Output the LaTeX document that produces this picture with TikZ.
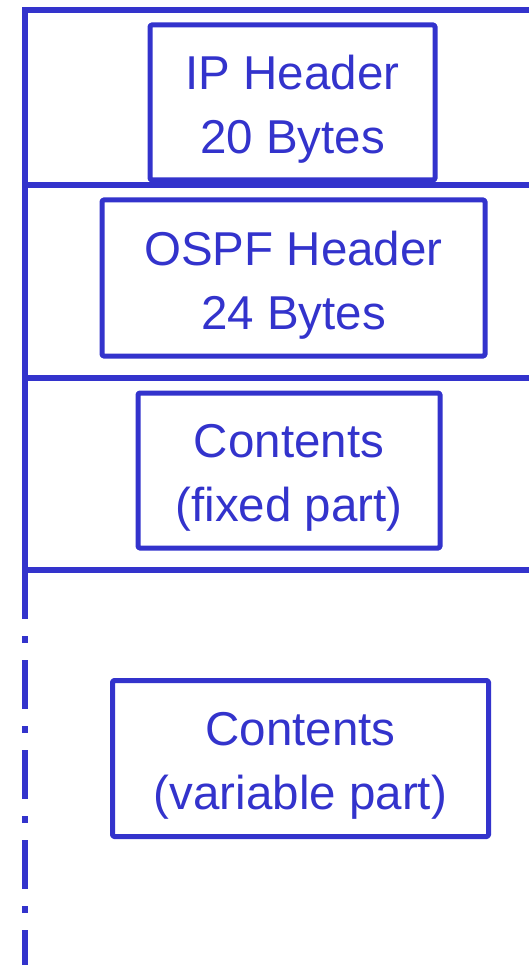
\documentclass[tikz,border=0pt]{standalone}
\usepackage{fontspec}
\setmainfont{Liberation Sans}
\definecolor{pktblue}{HTML}{3333CC}
\begin{document}
\begin{tikzpicture}[x=1pt,y=-1pt,
  field/.style={draw=pktblue, line width=5pt, line join=round, rounded corners=1.5pt,
    inner sep=0pt},
  fieldtext/.style={text=pktblue, align=center, inner sep=0pt,
    font=\fontsize{47.5}{64}\selectfont},
  frame/.style={draw=pktblue, line width=5.5pt, line join=miter},
  varline/.style={draw=pktblue, line width=5.5pt, dash pattern=on 49pt off 17pt on 7pt off 17pt}]
  \useasboundingbox (0,0) rectangle (529,965);
  % packet frame
  \coordinate (tl) at (25,10);
  \coordinate (tr) at (529,10);
  \coordinate (l1) at (25,185);  \coordinate (r1) at (529,185);
  \coordinate (l2) at (25,378);  \coordinate (r2) at (529,378);
  \coordinate (l3) at (25,570);  \coordinate (r3) at (529,570);
  \coordinate (bot) at (25,965);
  \draw[frame] (tr) -- (tl) -- (l3) -- (r3);
  \draw[frame] (l1) -- (r1);
  \draw[frame] (l2) -- (r2);
  \draw[varline] (l3) -- (bot);
  % field boxes
  \node[field, minimum width=285pt, minimum height=155pt] (ip) at (292.5,102.5) {};
  \node[field, minimum width=383pt, minimum height=156pt] (ospf) at (293.5,278) {};
  \node[field, minimum width=302pt, minimum height=155pt] (fixed) at (289,470.5) {};
  \node[field, minimum width=376pt, minimum height=156pt] (var) at (300.5,758.5) {};
  % field labels, set slightly below each box centre
  \node[fieldtext] (iptext) at ([yshift=-7pt]ip.center) {IP Header\\20 Bytes};
  \node[fieldtext] (ospftext) at ([yshift=-7pt]ospf.center) {OSPF Header\\24 Bytes};
  \node[fieldtext] (fixedtext) at ([yshift=-7pt]fixed.center) {Contents\\(fixed part)};
  \node[fieldtext] (vartext) at ([yshift=-7pt]var.center) {Contents\\(variable part)};
\end{tikzpicture}
\end{document}
